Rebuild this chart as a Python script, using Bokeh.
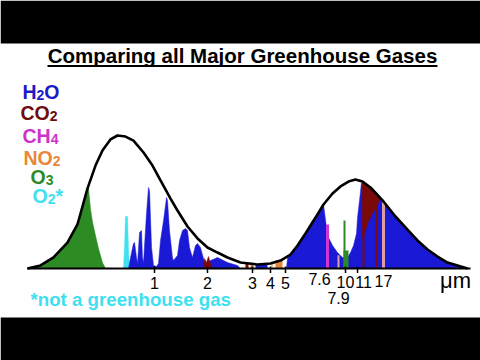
from bokeh.plotting import figure
from bokeh.models import Range1d, Label, BoxAnnotation
from bokeh.embed import file_html
from bokeh.resources import INLINE

# ---------------- data (wavelength in μm, relative intensity in % of left peak) -------------
# outline of emitted radiation (sun on the left, earth on the right)
env_w = [0.216, 0.253, 0.296, 0.350, 0.395, 0.446, 0.491, 0.534, 0.588, 0.640, 0.705, 0.776,
         0.876, 0.976, 1.075, 1.213, 1.319, 1.489, 1.680, 1.894, 2.137, 2.411, 2.820, 3.462,
         4.049, 4.568, 5.153, 5.608, 6.174, 6.966, 7.671, 8.551, 9.415, 10.37, 11.28, 12.27,
         13.52, 15.81, 18.27, 21.12, 23.82, 26.88, 30.32, 34.20, 38.59, 43.52]
env_h = [0, 2.3, 8.3, 19.5, 33.1, 60.2, 77.4, 88.7, 97.0, 100, 99.2, 96.2,
         87.2, 77.4, 66.2, 52.6, 43.6, 31.6, 22.6, 15.8, 12.0, 8.3, 4.5, 3.0,
         3.8, 6.0, 10.5, 17.3, 26.3, 38.3, 48.1, 56.4, 61.7, 65.4, 66.9, 65.4,
         60.9, 50.4, 39.1, 29.3, 21.1, 14.3, 9.0, 4.5, 2.3, 0]

# O3 (ultraviolet) absorption
o3_w = [0.216, 0.253, 0.296, 0.350, 0.395, 0.435, 0.451, 0.462, 0.474, 0.491, 0.509, 0.534, 0.554]
o3_h = [0, 2.3, 8.3, 19.5, 33.1, 54.1, 60.9, 45.1, 34.6, 24.8, 15.0, 4.5, 0]

# O2 band
o2_w = [0.688, 0.697, 0.705, 0.722, 0.731, 0.740]
o2_h = [0, 17.3, 39.1, 39.1, 13.5, 0]

# H2O bands, near infrared
h2o_a_w = [0.731, 0.749, 0.776, 0.786, 0.805, 0.815, 0.835, 0.855, 0.865, 0.876, 0.908, 0.930,
           0.942, 0.965, 0.988, 1.024, 1.049, 1.075, 1.115, 1.156, 1.170, 1.198, 1.242, 1.257,
           1.319, 1.352, 1.402, 1.453, 1.489, 1.525, 1.581, 1.639, 1.680, 1.741, 1.805, 1.849,
           1.917, 1.964, 2.137, 2.411, 2.720, 2.820]
h2o_a_h = [0, 8.3, 18.8, 19.5, 8.3, 3.8, 27.1, 28.6, 8.3, 4.5, 41.4, 60.9,
           58.6, 15.8, 2.3, 1.5, 3.8, 21.1, 36.1, 53.4, 51.1, 28.6, 8.3, 6.0,
           9.8, 21.1, 28.6, 30.1, 28.6, 15.8, 8.3, 17.3, 18.8, 15.8, 7.5, 3.0,
           4.5, 6.0, 8.3, 4.5, 2.3, 0]

# H2O, thermal infrared
h2o_b_w = [4.910, 4.970, 5.153, 5.608, 6.174, 6.966, 7.671, 7.953, 8.147, 8.551, 9.080, 9.644,
           10.244, 10.621, 11.012, 11.418, 11.557, 11.839, 12.127, 12.27, 13.52, 15.81, 18.27,
           21.12, 23.82, 26.88, 30.32, 34.20, 38.59, 43.52]
h2o_b_h = [0, 7.5, 10.5, 17.3, 26.3, 38.3, 48.1, 30.8, 23.3, 17.3, 12.0, 8.3,
           8.3, 12.0, 17.3, 26.3, 38.3, 51.1, 64.7, 65.4, 60.9, 50.4, 39.1,
           29.3, 21.1, 14.3, 9.0, 4.5, 2.3, 0]

# CO2 bands
co2_a_w = [1.805, 1.827, 1.872, 1.917, 1.964, 2.012]
co2_a_h = [0, 7.5, 4.5, 9.0, 3.8, 0]
co2_b_w = [12.27, 13.52, 14.53, 15.25, 14.53, 13.85, 13.19, 12.73, 12.27]
co2_b_h = [65.4, 60.9, 56.4, 52.6, 46.6, 41.4, 35.3, 28.6, 22.6]

# narrow bands between 3 and 5 μm
nb_left = [2.995, 3.181, 3.379, 4.098, 4.300]
nb_right = [3.106, 3.298, 3.905, 4.148, 4.679]
nb_top = [4.5, 4.5, 3.0, 4.5, 6.0]
nb_gas = ["CO2", "NO2", "H2O", "NO2", "NO2"]

# single lines
ln_w = [8.049, 9.880, 12.42, 14.53, 15.81, 9.191]
ln_top = [33.1, 36.1, 65.4, 55.0, 50.4, 10.0]
ln_gas = ["CH4", "O3", "CO2", "CO2", "NO2l", "NO2l"]
o3_base_w = [9.762, 10.37]
o3_base_top = 13.5

axis_w = [0.216, 45.13]

tick_labels = ["1", "2", "3", "4", "5", "7.6", "7.9", "10", "11", "17"]
tick_label_at = [1.0, 1.894, 3.259, 4.049, 4.851, 7.310, 9.191, 10.0, 12.42, 15.81]
tick_mark_at = [1.0, 1.894, 3.259, 4.049, 4.851, 10.0, 11.56]

# gas formulas: (text, is_subscript) parts
gases = [[("H", 0), ("2", 1), ("O", 0)],
         [("CO", 0), ("2", 1)],
         [("CH", 0), ("4", 1)],
         [("NO", 0), ("2", 1)],
         [("O", 0), ("3", 1)],
         [("O", 0), ("2", 1), ("*", 0)]]

# ---------------- styles ----------------
C = {"H2O": "#1a1ad6", "CO2": "#7a0a0a", "CH4": "#d535d5", "NO2": "#e8873a",
     "NO2l": "#dca0a0", "O3": "#2d8b24", "O2": "#40e0f0"}
legend_colors = ["#1c1cc4", "#6e0b0b", "#cc33cc", C["NO2"], C["O3"], C["O2"]]
FONT = "Liberation Sans"
# approximate advance widths (em) of the bold face, used to lay out formula pieces
ADV = {"H": 0.722, "C": 0.722, "O": 0.778, "N": 0.722, "*": 0.389,
       "2": 0.556, "3": 0.556, "4": 0.556}
MAIN_PX, SUB_PX = 19.5, 14

p = figure(width=480, height=360, output_backend="svg", toolbar_location=None,
           x_axis_type="log", x_range=Range1d(0.1562, 50.91), y_range=Range1d(-69.17, 201.5),
           x_axis_location=None, y_axis_location=None, min_border=0,
           outline_line_color=None, background_fill_color="white", border_fill_color="white")
p.grid.visible = False

def patch(w, h, color):
    p.patch(w, h, fill_color=color, line_color=color, line_width=0.5)

patch(o3_w, o3_h, C["O3"])
patch(o2_w, o2_h, C["O2"])
patch(h2o_a_w, h2o_a_h, C["H2O"])
patch(co2_a_w, co2_a_h, C["CO2"])
p.quad(left=nb_left, right=nb_right, bottom=0, top=nb_top,
       fill_color=[C[g] for g in nb_gas], line_color=None)
patch(h2o_b_w, h2o_b_h, C["H2O"])
patch(co2_b_w, co2_b_h, C["CO2"])
p.segment(x0=ln_w, y0=0, x1=ln_w, y1=ln_top, line_color=[C[g] for g in ln_gas],
          line_width=[3, 2, 2, 2, 3, 2])
p.quad(left=[o3_base_w[0]], right=[o3_base_w[1]], bottom=0, top=o3_base_top,
       fill_color=C["O3"], line_color=None)

# outline and axis
p.line(env_w, env_h, line_color="black", line_width=2.6)
p.line(axis_w, [0, 0], line_color="black", line_width=2)
p.segment(x0=tick_mark_at, y0=-3.4, x1=tick_mark_at, y1=1.5, line_color="black", line_width=1.5)

# letterbox bands
p.add_layout(BoxAnnotation(bottom=317, bottom_units="screen", fill_color="black",
                           fill_alpha=1, line_color=None))
p.add_layout(BoxAnnotation(top=43, top_units="screen", fill_color="black",
                           fill_alpha=1, line_color=None))

# title with underline
p.add_layout(Label(x=242, y=305, x_units="screen", y_units="screen",
                   text="Comparing all Major Greenhouse Gases", text_align="center",
                   text_baseline="middle", text_font=FONT, text_font_style="bold",
                   text_font_size="20.5px", text_color="black"))
p.add_layout(BoxAnnotation(left=47, right=437, bottom=293.5, top=295.5, left_units="screen",
                           right_units="screen", bottom_units="screen", top_units="screen",
                           fill_color="black", fill_alpha=1, line_color=None))

# gas legend (formula pieces with lowered, smaller subscripts)
leg_x = [22, 20, 22, 23, 30, 32]
leg_base = [268.5, 247.5, 224.5, 202.5, 183.5, 164.5]
for parts, col, lx, ly in zip(gases, legend_colors, leg_x, leg_base):
    cx = lx
    for txt, sub in parts:
        size = SUB_PX if sub else MAIN_PX
        p.add_layout(Label(x=cx, y=ly - (3 if sub else 0), x_units="screen", y_units="screen",
                           text=txt, text_baseline="alphabetic", text_font=FONT,
                           text_font_style="bold", text_font_size=f"{size}px", text_color=col))
        cx += sum(ADV[ch] for ch in txt) * size

# footnote
p.add_layout(Label(x=30, y=61, x_units="screen", y_units="screen",
                   text="*not a greenhouse gas", text_baseline="middle", text_font=FONT,
                   text_font_style="bold", text_font_size="18.7px", text_color="#40dff0"))

# tick labels
tick_row_y = [78, 78, 78, 78, 78, 82, 63, 79, 79, 80]
for t, at, ty in zip(tick_labels, tick_label_at, tick_row_y):
    p.add_layout(Label(x=at, y=ty, y_units="screen", text=t, text_align="center",
                       text_baseline="middle", text_font=FONT, text_font_size="16px",
                       text_color="black"))
p.add_layout(Label(x=37.65, y=80, y_units="screen", text="μm", text_align="center",
                   text_baseline="middle", text_font=FONT, text_font_size="22px",
                   text_color="black"))

open("out.html", "w").write(file_html(p, INLINE))
